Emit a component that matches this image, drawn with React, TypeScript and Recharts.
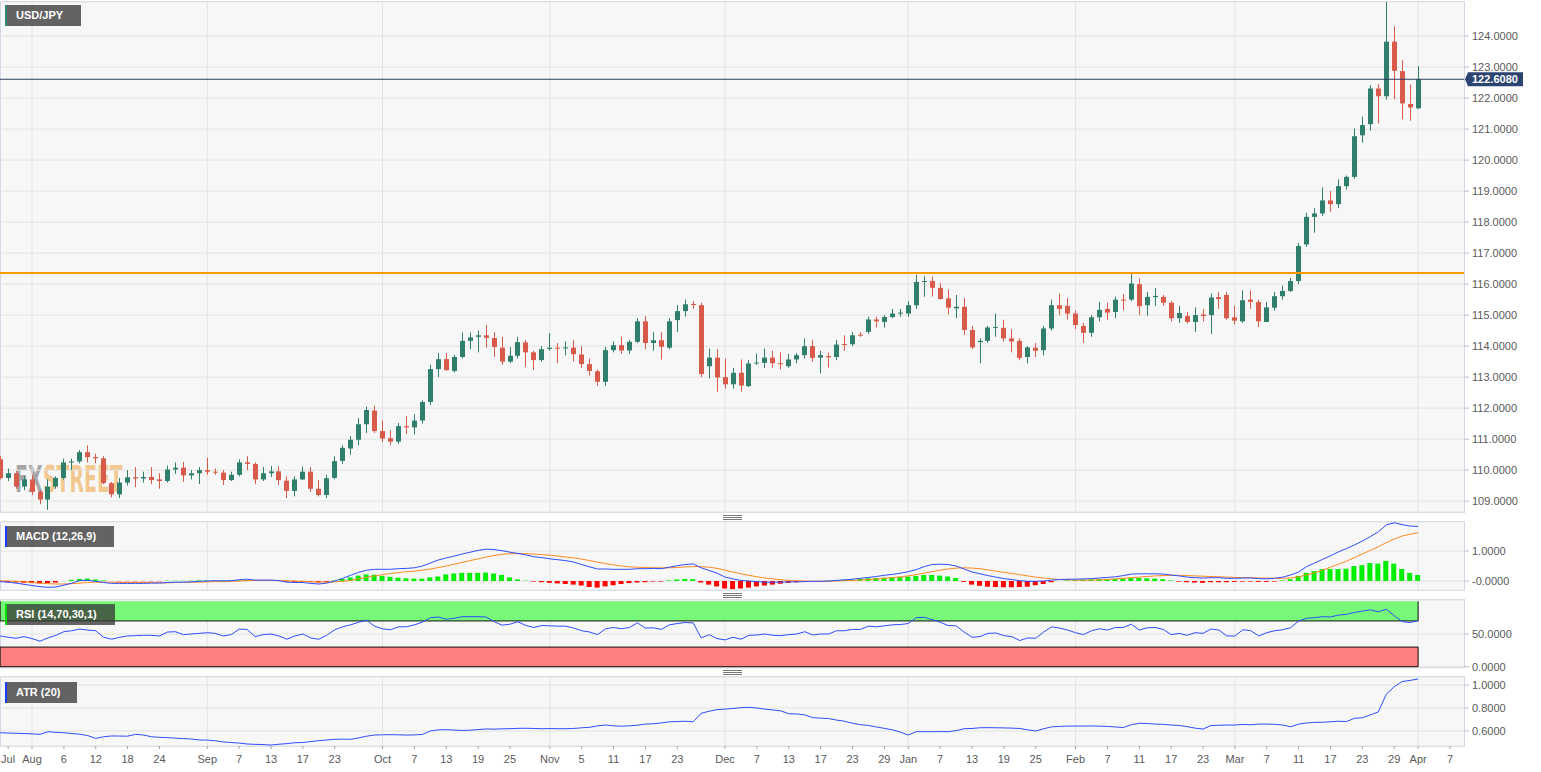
import React from "react";
import {
  ComposedChart,
  Bar,
  Line,
  XAxis,
  YAxis,
  CartesianGrid,
  ReferenceLine,
  ReferenceArea,
  Cell,
} from "recharts";

// daily USD/JPY candles, Jul 27 2021 (index 0) .. Apr 1 2022 (index 178), weekdays only
const open = [
  110.35, 109.75, 109.90, 109.47, 109.70, 109.30, 109.05, 109.47, 109.75, 110.25,
  110.28, 110.58, 110.42, 110.38, 109.58, 109.22, 109.60, 109.77, 109.73, 109.78,
  109.70, 109.65, 110.02, 110.08, 109.83, 109.90, 110.00, 109.95, 109.92, 109.68,
  109.85, 110.25, 110.20, 109.70, 109.90, 109.96, 109.66, 109.33, 109.70, 109.95,
  109.40, 109.20, 109.75, 110.30, 110.70, 110.98, 111.48, 111.92, 111.26, 111.03,
  110.92, 111.42, 111.38, 111.60, 112.20, 113.26, 113.58, 113.20, 113.65, 114.17,
  114.30, 114.35, 114.26, 113.95, 113.50, 113.69, 114.12, 113.80, 113.55, 113.91,
  113.95, 113.93, 113.95, 113.73, 113.42, 113.19, 112.85, 113.87, 114.03, 113.86,
  114.14, 114.80, 114.10, 114.19, 113.95, 114.84, 115.13, 115.36, 115.32, 113.35,
  113.63, 113.00, 112.77, 113.14, 112.71, 113.44, 113.46, 113.63, 113.45, 113.35,
  113.57, 113.71, 114.00, 113.63, 113.68, 113.65, 114.07, 114.06, 114.37, 114.46,
  114.86, 114.78, 114.94, 115.05, 115.05, 115.32, 116.07, 116.10, 115.88, 115.54,
  115.22, 115.27, 114.52, 114.13, 114.17, 114.60, 114.59, 114.25, 114.17, 113.65,
  113.95, 113.87, 114.57, 115.32, 115.30, 115.05, 114.65, 114.43, 114.93, 115.20,
  115.10, 115.50, 115.50, 116.00, 115.32, 115.58, 115.59, 115.40, 114.90, 114.97,
  114.78, 115.02, 115.00, 115.58, 115.65, 114.93, 114.80, 115.50, 115.42, 114.78,
  115.24, 115.61, 115.78, 116.10, 117.28, 118.17, 118.28, 118.70, 118.58, 119.16,
  119.46, 120.80, 121.16, 122.31, 122.06, 123.82, 122.87, 121.81, 121.67,
];
const high = [
  110.45, 110.05, 109.98, 109.80, 109.85, 109.35, 109.70, 109.80, 110.37, 110.37,
  110.65, 110.80, 110.53, 110.45, 109.62, 109.75, 110.00, 110.10, 109.95, 110.10,
  109.90, 110.15, 110.25, 110.27, 110.00, 110.10, 110.40, 110.05, 110.00, 109.95,
  110.35, 110.45, 110.25, 110.10, 110.13, 110.13, 109.80, 109.80, 110.12, 110.10,
  109.68, 109.85, 110.45, 110.80, 111.10, 111.68, 112.05, 112.08, 111.60, 111.29,
  111.52, 111.74, 111.80, 112.25, 113.40, 113.78, 113.78, 113.72, 114.44, 114.44,
  114.50, 114.68, 114.45, 114.30, 113.97, 114.30, 114.20, 113.85, 114.00, 114.42,
  114.10, 114.15, 114.20, 114.00, 113.60, 113.25, 113.98, 114.15, 114.30, 114.20,
  114.90, 114.97, 114.45, 114.45, 114.90, 115.32, 115.50, 115.45, 115.40, 113.92,
  113.90, 113.60, 113.30, 113.57, 113.55, 113.76, 113.92, 113.85, 113.80, 113.75,
  113.78, 114.25, 114.20, 113.85, 113.80, 114.20, 114.35, 114.45, 114.45, 114.95,
  114.95, 115.00, 115.20, 115.20, 115.45, 116.30, 116.25, 116.25, 116.03, 115.83,
  115.65, 115.55, 114.65, 114.25, 114.65, 115.05, 114.85, 114.55, 114.25, 114.00,
  114.10, 114.65, 115.50, 115.70, 115.55, 115.15, 114.75, 115.00, 115.43, 115.40,
  115.60, 115.68, 116.33, 116.18, 115.75, 115.88, 115.65, 115.45, 115.30, 115.10,
  115.25, 115.20, 115.70, 115.75, 115.75, 115.30, 115.80, 115.80, 115.50, 115.43,
  115.75, 115.95, 116.20, 117.33, 118.30, 118.45, 119.12, 119.00, 119.38, 119.50,
  121.02, 121.40, 122.42, 122.45, 125.10, 124.32, 123.22, 122.44, 123.03,
];
const low = [
  109.70, 109.65, 109.40, 109.35, 109.20, 108.90, 108.72, 109.40, 109.70, 110.00,
  110.22, 110.25, 110.22, 109.55, 109.12, 109.10, 109.50, 109.45, 109.60, 109.55,
  109.40, 109.60, 109.88, 109.62, 109.70, 109.55, 109.85, 109.85, 109.52, 109.65,
  109.80, 110.00, 109.55, 109.65, 109.78, 109.52, 109.10, 109.15, 109.68, 109.30,
  109.15, 109.10, 109.70, 110.20, 110.50, 110.80, 111.20, 111.20, 110.90, 110.80,
  110.85, 111.16, 111.15, 111.50, 112.10, 113.00, 113.20, 113.15, 113.60, 113.90,
  113.80, 113.95, 113.65, 113.40, 113.45, 113.60, 113.33, 113.23, 113.50, 113.85,
  113.45, 113.70, 113.50, 113.30, 113.05, 112.72, 112.72, 113.80, 113.75, 113.75,
  114.10, 113.90, 113.85, 113.57, 113.90, 114.46, 114.95, 115.20, 113.00, 112.96,
  112.53, 112.63, 112.63, 112.53, 112.68, 113.40, 113.30, 113.30, 113.25, 113.30,
  113.45, 113.60, 113.50, 113.12, 113.31, 113.55, 113.85, 114.00, 114.30, 114.40,
  114.60, 114.60, 114.90, 114.95, 114.95, 115.20, 115.59, 115.60, 115.50, 115.02,
  114.90, 114.35, 113.90, 113.45, 114.10, 114.30, 114.15, 113.80, 113.55, 113.44,
  113.65, 113.70, 114.50, 115.00, 114.85, 114.55, 114.10, 114.30, 114.80, 114.85,
  114.90, 115.15, 115.45, 115.00, 114.98, 115.30, 115.30, 114.80, 114.75, 114.73,
  114.46, 114.80, 114.39, 115.20, 114.85, 114.70, 114.75, 115.20, 114.62, 114.78,
  115.15, 115.50, 115.75, 116.00, 117.20, 117.66, 118.20, 118.33, 118.45, 119.05,
  119.40, 120.56, 120.95, 121.18, 121.95, 121.96, 121.32, 121.27, 121.65,
];
const close = [
  109.74, 109.90, 109.47, 109.70, 109.30, 109.05, 109.47, 109.75, 110.25, 110.28,
  110.58, 110.42, 110.38, 109.58, 109.22, 109.60, 109.77, 109.73, 109.78, 109.68,
  109.65, 110.02, 110.08, 109.83, 109.90, 110.00, 109.95, 109.92, 109.68, 109.85,
  110.25, 110.20, 109.70, 109.90, 109.96, 109.68, 109.33, 109.70, 109.95, 109.40,
  109.20, 109.74, 110.29, 110.72, 110.98, 111.48, 111.94, 111.26, 111.02, 110.92,
  111.42, 111.38, 111.60, 112.20, 113.26, 113.58, 113.23, 113.65, 114.17, 114.28,
  114.35, 114.27, 113.97, 113.50, 113.69, 114.13, 113.80, 113.55, 113.90, 113.95,
  113.93, 113.96, 113.74, 113.42, 113.20, 112.85, 113.87, 114.03, 113.86, 114.14,
  114.80, 114.10, 114.19, 113.98, 114.80, 115.13, 115.35, 115.35, 113.10, 113.63,
  112.99, 112.77, 113.14, 112.73, 113.44, 113.47, 113.63, 113.45, 113.42, 113.57,
  113.71, 114.00, 113.62, 113.71, 113.64, 114.05, 114.05, 114.35, 114.34, 114.86,
  114.80, 114.94, 115.05, 115.08, 115.32, 116.07, 116.10, 115.88, 115.52, 115.24,
  115.27, 114.52, 113.96, 114.17, 114.60, 114.62, 114.25, 114.15, 113.62, 113.96,
  113.85, 114.57, 115.32, 115.20, 115.05, 114.68, 114.43, 114.93, 115.17, 115.08,
  115.50, 115.48, 116.02, 115.29, 115.59, 115.62, 115.40, 114.90, 115.07, 114.78,
  115.00, 114.97, 115.57, 115.52, 114.90, 114.82, 115.48, 115.43, 114.80, 115.25,
  115.61, 115.78, 116.10, 117.23, 118.17, 118.28, 118.70, 118.58, 119.16, 119.46,
  120.77, 121.13, 122.31, 122.06, 123.82, 122.88, 121.83, 121.70, 122.608,
];

const macd = [
  -0.02, -0.04, -0.07, -0.11, -0.15, -0.19, -0.21, -0.20, -0.14, -0.07,
  0.02, 0.02, -0.01, -0.05, -0.08, -0.08, -0.08, -0.08, -0.08, -0.07,
  -0.07, -0.05, -0.04, -0.04, -0.03, -0.01, 0.0, 0.01, 0.0, 0.01,
  0.04, 0.06, 0.03, 0.03, 0.03, 0.01, -0.04, -0.05, -0.05, -0.08,
  -0.10, -0.07, 0.0, 0.09, 0.19, 0.29, 0.36, 0.39, 0.39, 0.39,
  0.41, 0.42, 0.44, 0.50, 0.60, 0.70, 0.77, 0.83, 0.90, 0.96,
  1.02, 1.06, 1.05, 1.01, 0.96, 0.92, 0.87, 0.81, 0.78, 0.74,
  0.71, 0.68, 0.63, 0.55, 0.47, 0.40, 0.40, 0.39, 0.39, 0.39,
  0.41, 0.41, 0.42, 0.41, 0.46, 0.51, 0.55, 0.57, 0.44, 0.35,
  0.26, 0.13, 0.07, 0.02, 0.0, -0.02, -0.04, -0.04, -0.04, -0.03,
  -0.03, -0.02, -0.01, -0.01, 0.0, 0.02, 0.04, 0.06, 0.09, 0.12,
  0.15, 0.19, 0.22, 0.26, 0.31, 0.38, 0.48, 0.55, 0.56, 0.55,
  0.50, 0.40, 0.30, 0.24, 0.18, 0.13, 0.08, 0.05, 0.01, -0.01,
  -0.01, 0.0, 0.03, 0.05, 0.06, 0.06, 0.07, 0.08, 0.10, 0.12,
  0.14, 0.18, 0.23, 0.24, 0.24, 0.24, 0.23, 0.20, 0.17, 0.13,
  0.11, 0.10, 0.11, 0.11, 0.09, 0.09, 0.10, 0.10, 0.08, 0.07,
  0.09, 0.13, 0.20, 0.30, 0.48, 0.60, 0.72, 0.84, 0.97, 1.08,
  1.20, 1.33, 1.48, 1.64, 1.87, 1.94, 1.88, 1.83, 1.82,
];
const signal = [
  0.01, 0.0, -0.01, -0.03, -0.05, -0.07, -0.09, -0.10, -0.10, -0.09,
  -0.07, -0.05, -0.04, -0.04, -0.04, -0.05, -0.05, -0.05, -0.05, -0.05,
  -0.06, -0.06, -0.05, -0.05, -0.04, -0.04, -0.03, -0.02, -0.02, -0.01,
  0.0, 0.01, 0.02, 0.02, 0.02, 0.02, 0.01, 0.0, -0.01, -0.02,
  -0.03, -0.04, -0.03, -0.01, 0.02, 0.07, 0.12, 0.17, 0.21, 0.25,
  0.28, 0.31, 0.33, 0.36, 0.40, 0.45, 0.50, 0.56, 0.62, 0.68,
  0.74, 0.80, 0.85, 0.89, 0.91, 0.91, 0.91, 0.90, 0.88, 0.86,
  0.83, 0.80, 0.77, 0.73, 0.68, 0.63, 0.58, 0.54, 0.50, 0.47,
  0.46, 0.45, 0.44, 0.44, 0.44, 0.45, 0.47, 0.48, 0.48, 0.46,
  0.42, 0.36, 0.30, 0.24, 0.19, 0.14, 0.10, 0.07, 0.04, 0.02,
  0.01, 0.0, -0.01, -0.01, -0.01, 0.0, 0.01, 0.02, 0.03, 0.05,
  0.07, 0.09, 0.11, 0.14, 0.17, 0.21, 0.26, 0.31, 0.36, 0.40,
  0.43, 0.44, 0.43, 0.41, 0.37, 0.33, 0.29, 0.25, 0.21, 0.17,
  0.13, 0.10, 0.07, 0.05, 0.04, 0.03, 0.03, 0.03, 0.04, 0.05,
  0.07, 0.09, 0.11, 0.13, 0.15, 0.17, 0.18, 0.19, 0.19, 0.18,
  0.17, 0.16, 0.15, 0.14, 0.13, 0.12, 0.11, 0.11, 0.10, 0.10,
  0.09, 0.09, 0.10, 0.14, 0.20, 0.27, 0.36, 0.46, 0.56, 0.66,
  0.78, 0.90, 1.02, 1.14, 1.28, 1.40, 1.50, 1.56, 1.61,
];
const hist = [
  -0.03, -0.04, -0.05, -0.06, -0.07, -0.08, -0.07, -0.05, 0.0, 0.04,
  0.07, 0.08, 0.05, 0.02, 0.0, -0.01, -0.01, -0.01, -0.01, -0.01,
  -0.01, 0.01, 0.01, 0.01, 0.01, 0.02, 0.02, 0.02, 0.02, 0.02,
  0.02, 0.03, 0.02, 0.01, 0.01, 0.0, -0.02, -0.03, -0.03, -0.04,
  -0.05, -0.03, 0.02, 0.07, 0.12, 0.18, 0.22, 0.21, 0.17, 0.14,
  0.11, 0.09, 0.08, 0.08, 0.12, 0.15, 0.22, 0.25, 0.27, 0.27,
  0.27, 0.28, 0.25, 0.20, 0.12, 0.05, 0.01, -0.02, -0.04, -0.06,
  -0.08, -0.10, -0.12, -0.15, -0.20, -0.22, -0.18, -0.14, -0.10, -0.07,
  -0.05, -0.04, -0.02, -0.02, 0.02, 0.05, 0.07, 0.06, -0.05, -0.12,
  -0.18, -0.25, -0.27, -0.25, -0.22, -0.18, -0.15, -0.12, -0.09, -0.06,
  -0.04, -0.02, -0.01, 0.0, 0.01, 0.02, 0.04, 0.05, 0.07, 0.09,
  0.10, 0.11, 0.12, 0.13, 0.15, 0.17, 0.20, 0.20, 0.18, 0.15,
  0.10, -0.03, -0.12, -0.16, -0.19, -0.20, -0.21, -0.21, -0.20, -0.19,
  -0.14, -0.10, -0.04, 0.0, 0.02, 0.03, 0.04, 0.05, 0.06, 0.07,
  0.07, 0.08, 0.10, 0.10, 0.09, 0.08, 0.06, 0.02, -0.02, -0.04,
  -0.05, -0.06, -0.04, -0.04, -0.04, -0.03, -0.02, -0.02, -0.03, -0.03,
  -0.02, 0.02, 0.06, 0.17, 0.27, 0.33, 0.40, 0.40, 0.40, 0.41,
  0.50, 0.53, 0.60, 0.58, 0.67, 0.58, 0.40, 0.27, 0.20,
];
const rsi = [
  47, 45, 43.5, 46, 43, 39, 44, 48, 53.5, 55,
  57.5, 56, 55, 45, 42, 45, 47, 47.5, 48, 48,
  47, 53, 53.5, 49, 50, 51, 52, 51, 47, 49,
  57.5, 57, 46, 49, 50, 47, 42, 47, 50, 44,
  42, 48, 56.5, 61, 64, 68, 71, 62, 58, 56.5,
  61, 61, 64, 68, 75, 76, 72.5, 74, 76.5, 76.5,
  76.5, 76, 69, 63.5, 65, 68.7, 63, 60, 63, 62.5,
  62, 62, 59, 55, 53, 49, 58, 60, 58, 60,
  67, 59, 59.5, 57, 64, 66, 67.5, 67, 44, 49,
  43, 41, 45, 42, 48, 48.5, 50, 48, 47.5, 49,
  50, 53.5, 48.5, 50, 50, 55, 55, 57, 57, 62,
  61, 62.5, 64, 64.5, 66, 75, 75.5, 72, 68, 63,
  62.5, 53, 45, 46, 51, 51.5, 47.5, 46, 40, 44,
  43.5, 53, 61, 59, 56, 52, 49, 55, 58, 56,
  60, 60, 65, 56, 59.5, 60, 57, 49, 51, 48,
  52, 51, 57.6, 56, 47, 46.9, 56.5, 55, 47, 52,
  55, 56.5, 59.6, 70, 74, 75, 76.5, 76, 79, 80,
  83, 85, 87, 84, 88, 78, 69, 67.5, 70.5,
];
const atr = [
  0.585, 0.582, 0.580, 0.578, 0.575, 0.571, 0.594, 0.588, 0.585, 0.578,
  0.572, 0.560, 0.536, 0.550, 0.557, 0.556, 0.555, 0.571, 0.565, 0.550,
  0.545, 0.542, 0.538, 0.534, 0.530, 0.522, 0.521, 0.515, 0.505, 0.500,
  0.495, 0.487, 0.484, 0.482, 0.478, 0.485, 0.490, 0.498, 0.500, 0.508,
  0.516, 0.522, 0.528, 0.529, 0.528, 0.540, 0.555, 0.565, 0.567, 0.568,
  0.567, 0.565, 0.566, 0.570, 0.600, 0.610, 0.612, 0.608, 0.605, 0.607,
  0.612, 0.618, 0.616, 0.619, 0.620, 0.623, 0.624, 0.622, 0.620, 0.621,
  0.620, 0.620, 0.622, 0.628, 0.632, 0.645, 0.652, 0.645, 0.642, 0.645,
  0.650, 0.660, 0.663, 0.670, 0.680, 0.682, 0.685, 0.680, 0.754, 0.772,
  0.786, 0.790, 0.796, 0.803, 0.806, 0.800, 0.790, 0.783, 0.775, 0.750,
  0.748, 0.740, 0.716, 0.712, 0.708, 0.695, 0.685, 0.667, 0.655, 0.648,
  0.635, 0.623, 0.610, 0.590, 0.565, 0.594, 0.594, 0.594, 0.595, 0.594,
  0.603, 0.620, 0.622, 0.628, 0.629, 0.628, 0.627, 0.625, 0.622, 0.610,
  0.600, 0.620, 0.636, 0.640, 0.643, 0.643, 0.643, 0.644, 0.642, 0.640,
  0.635, 0.630, 0.655, 0.667, 0.665, 0.660, 0.658, 0.652, 0.648, 0.638,
  0.625, 0.617, 0.648, 0.650, 0.652, 0.652, 0.657, 0.654, 0.660, 0.660,
  0.658, 0.652, 0.637, 0.660, 0.670, 0.675, 0.676, 0.680, 0.685, 0.682,
  0.710, 0.715, 0.740, 0.765, 0.920, 0.985, 1.030, 1.040, 1.052,
];

const priceTicks = [109, 110, 111, 112, 113, 114, 115, 116, 117, 118, 119, 120, 121, 122, 123, 124];
const resistance = 116.355;
const lastPrice = close[close.length - 1];
const lastIdx = close.length - 1;

const monthStarts = [4, 26, 48, 69, 91, 114, 135, 155, 178];
const tickIdx = [
  1, 4, 8, 12, 16, 20, 26, 30, 34, 38, 42, 48, 52, 56, 60, 64, 69, 73, 77, 81, 85,
  91, 95, 99, 103, 107, 111, 114, 118, 122, 126, 130, 135, 139, 143, 147, 151,
  155, 159, 163, 167, 171, 175, 178, 182,
];
const tickLabels = [
  "Jul", "Aug", "6", "12", "18", "24", "Sep", "7", "13", "17", "23", "Oct", "7", "13", "19", "25",
  "Nov", "5", "11", "17", "23", "Dec", "7", "13", "17", "23", "29", "Jan", "7", "13", "19", "25",
  "Feb", "7", "11", "17", "23", "Mar", "7", "11", "17", "23", "29", "Apr", "7",
];

const rows = open.map((o, i) => ({
  i,
  o,
  h: high[i],
  l: low[i],
  c: close[i],
  range: [low[i], high[i]],
  macd: macd[i],
  signal: signal[i],
  hist: hist[i],
  rsi: rsi[i],
  atr: atr[i],
}));

const W = 1541;
const AXIS_W = 77;
const X_DOMAIN: [number, number] = [-0.02, 183.76];
const FONT = "'Liberation Sans', Arial, sans-serif";
const MARK_FONT = "'DejaVu Sans Condensed', 'DejaVu Sans', sans-serif";
const GREEN = "#2f7f6c";
const RED = "#d85a4a";
const BLUE = "#2f4dff";
const GRID = "#e3e3e3";
const FRAME = "#d3d8e7";

const tickStyle = { fill: "#5a5a5a", fontSize: 11, fontFamily: FONT };

function Candle(props: any) {
  const { x, y, width, height, payload } = props;
  if (!payload || x == null) return null;
  const { o, h, l, c } = payload;
  const top = Math.min(y, y + height);
  const span = Math.abs(height);
  const k = h === l ? 0 : span / (h - l);
  const py = (v: number) => top + (h - v) * k;
  const cx = Math.round(x + width / 2) + 0.5;
  const color = c >= o ? GREEN : RED;
  const bodyTop = py(Math.max(o, c));
  const bodyH = Math.max(1, Math.abs(py(o) - py(c)));
  return (
    <g>
      <line x1={cx} x2={cx} y1={top} y2={top + span} stroke={color} strokeWidth={1} />
      <rect x={cx - 2.5} y={bodyTop} width={5} height={bodyH} fill={color} />
    </g>
  );
}

function PriceTag(props: any) {
  const vb = props.viewBox || {};
  const x = (vb.x ?? 0) + (vb.width ?? 0);
  const y = vb.y ?? 0;
  return (
    <g>
      <path
        d={`M${x + 1},${y} L${x + 4},${y - 7} L${x + 59},${y - 7} L${x + 59},${y + 7} L${x + 4},${y + 7} Z`}
        fill="#2c4470"
      />
      <text x={x + 8} y={y + 4} fill="#fff" fontSize={11} fontWeight="bold" fontFamily={FONT}>
        {lastPrice.toFixed(4)}
      </text>
    </g>
  );
}

function Frame({ top, height }: { top: number; height: number }) {
  return (
    <div
      style={{
        position: "absolute",
        left: 0,
        top,
        width: W - AXIS_W + 1,
        height,
        boxSizing: "border-box",
        border: `1px solid ${FRAME}`,
        background: "#f7f7f7",
      }}
    />
  );
}

function Tag({ top, width, text, strip }: { top: number; width: number; text: string; strip: string }) {
  return (
    <div
      style={{
        position: "absolute",
        left: 5,
        top,
        width,
        height: 21,
        background: "rgba(58,58,58,0.78)",
        borderLeft: `2px solid ${strip}`,
        boxSizing: "border-box",
        color: "#fff",
        fontFamily: FONT,
        fontWeight: "bold",
        fontSize: 11,
        lineHeight: "21px",
        paddingLeft: 9,
        whiteSpace: "nowrap",
      }}
    >
      {text}
    </div>
  );
}

function Grip({ top }: { top: number }) {
  return (
    <div style={{ position: "absolute", left: 723, top, width: 19 }}>
      {[0, 2, 4].map((d) => (
        <div key={d} style={{ position: "absolute", top: d, width: 19, height: 1, background: "#777" }} />
      ))}
    </div>
  );
}

const hiddenX = (
  <XAxis dataKey="i" type="number" scale="linear" domain={X_DOMAIN} allowDataOverflow ticks={tickIdx} hide />
);

const band = "#111";

export default function App() {
  return (
    <div style={{ position: "absolute", left: 0, top: 0, width: W, height: 772, background: "#fff", overflow: "hidden" }}>
      <Frame top={1} height={512} />
      <Frame top={521} height={70} />
      <Frame top={599} height={69} />
      <Frame top={676} height={71} />

      {/* watermark */}
      <svg style={{ position: "absolute", left: 8, top: 448 }} width={140} height={60}>
        <g transform="scale(1,1.75)">
          <text x={7} y={25.4} fontFamily={MARK_FONT} fontWeight="bold" fontSize={21} fill="#8c8c8c" fillOpacity={0.75}>
            FX
          </text>
          <text x={35} y={25.4} fontFamily={MARK_FONT} fontWeight="bold" fontSize={21} fill="#f0a848" fillOpacity={0.6}>
            STREET
          </text>
        </g>
      </svg>

      <div style={{ position: "absolute", left: 0, top: 0 }}>
        <ComposedChart width={W} height={520} data={rows} margin={{ top: 2, right: 0, bottom: 8, left: 0 }}>
          <CartesianGrid stroke={GRID} verticalValues={monthStarts} />
          {hiddenX}
          <YAxis
            orientation="right"
            type="number"
            domain={[108.65, 125.1]}
            allowDataOverflow
            ticks={priceTicks}
            interval={0}
            tickFormatter={(v: number) => v.toFixed(4)}
            width={AXIS_W}
            axisLine={false}
            tickLine={{ stroke: "#b8bdca" }}
            tickSize={5}
            tickMargin={3}
            tick={tickStyle}
          />
          <ReferenceLine y={resistance} stroke="#ff9a00" strokeWidth={2} />
          <Bar dataKey="range" barSize={5} isAnimationActive={false} shape={(p: any) => <Candle {...p} />} />
          <ReferenceLine y={lastPrice} stroke="#2c3c5e" strokeWidth={1} label={<PriceTag />} />
        </ComposedChart>
      </div>

      <div style={{ position: "absolute", left: 0, top: 516 }}>
        <ComposedChart width={W} height={80} data={rows} margin={{ top: 6, right: 0, bottom: 6, left: 0 }}>
          <CartesianGrid stroke={GRID} verticalValues={monthStarts} />
          {hiddenX}
          <YAxis
            orientation="right"
            type="number"
            domain={[-0.3, 1.967]}
            allowDataOverflow
            ticks={[0, 1]}
            interval={0}
            tickFormatter={(v: number) => (v === 0 ? "-0.0000" : v.toFixed(4))}
            width={AXIS_W}
            axisLine={false}
            tickLine={{ stroke: "#b8bdca" }}
            tickSize={5}
            tickMargin={3}
            tick={tickStyle}
          />
          <Bar dataKey="hist" barSize={5} isAnimationActive={false}>
            {rows.map((r) => (
              <Cell key={r.i} fill={r.hist >= 0 ? "#00ee00" : "#ff0000"} />
            ))}
          </Bar>
          <Line dataKey="signal" stroke="#ff8a1c" strokeWidth={1} dot={false} isAnimationActive={false} />
          <Line dataKey="macd" stroke={BLUE} strokeWidth={1} dot={false} isAnimationActive={false} />
        </ComposedChart>
      </div>

      <div style={{ position: "absolute", left: 0, top: 594 }}>
        <ComposedChart width={W} height={80} data={rows} margin={{ top: 6, right: 0, bottom: 6, left: 0 }}>
          <CartesianGrid stroke={GRID} verticalValues={monthStarts} />
          {hiddenX}
          <YAxis
            orientation="right"
            type="number"
            domain={[-2, 102]}
            allowDataOverflow
            ticks={[0, 50]}
            interval={0}
            tickFormatter={(v: number) => v.toFixed(4)}
            width={AXIS_W}
            axisLine={false}
            tickLine={{ stroke: "#b8bdca" }}
            tickSize={5}
            tickMargin={3}
            tick={tickStyle}
          />
          <ReferenceArea x1={0} x2={lastIdx} y1={70} y2={100} fill="#78f878" fillOpacity={1} stroke="none" />
          <ReferenceArea x1={0} x2={lastIdx} y1={0} y2={30} fill="#ff7f7f" fillOpacity={1} stroke="none" />
          <ReferenceLine segment={[{ x: 0, y: 70 }, { x: lastIdx, y: 70 }]} stroke={band} />
          <ReferenceLine segment={[{ x: 0, y: 70 }, { x: 0, y: 100 }]} stroke={band} />
          <ReferenceLine segment={[{ x: lastIdx, y: 70 }, { x: lastIdx, y: 100 }]} stroke={band} />
          <ReferenceLine segment={[{ x: 0, y: 30 }, { x: lastIdx, y: 30 }]} stroke={band} />
          <ReferenceLine segment={[{ x: 0, y: 0 }, { x: lastIdx, y: 0 }]} stroke={band} />
          <ReferenceLine segment={[{ x: 0, y: 0 }, { x: 0, y: 30 }]} stroke={band} />
          <ReferenceLine segment={[{ x: lastIdx, y: 0 }, { x: lastIdx, y: 30 }]} stroke={band} />
          <Line dataKey="rsi" stroke={BLUE} strokeWidth={1} dot={false} isAnimationActive={false} />
        </ComposedChart>
      </div>

      <div style={{ position: "absolute", left: 0, top: 671 }}>
        <ComposedChart width={W} height={101} data={rows} margin={{ top: 6, right: 0, bottom: 0, left: 0 }}>
          <CartesianGrid stroke={GRID} verticalValues={monthStarts} />
          <XAxis
            dataKey="i"
            type="number"
            scale="linear"
            domain={X_DOMAIN}
            allowDataOverflow
            ticks={tickIdx}
            interval={0}
            tickFormatter={(v: number) => tickLabels[tickIdx.indexOf(v)] ?? ""}
            height={26}
            axisLine={false}
            tickLine={{ stroke: "#9aa0ad" }}
            tickSize={3}
            tickMargin={6}
            tick={tickStyle}
          />
          <YAxis
            orientation="right"
            type="number"
            domain={[0.4696, 1.0696]}
            allowDataOverflow
            ticks={[0.6, 0.8, 1.0]}
            interval={0}
            tickFormatter={(v: number) => v.toFixed(4)}
            width={AXIS_W}
            axisLine={false}
            tickLine={{ stroke: "#b8bdca" }}
            tickSize={5}
            tickMargin={3}
            tick={tickStyle}
          />
          <Line dataKey="atr" stroke={BLUE} strokeWidth={1} dot={false} isAnimationActive={false} />
        </ComposedChart>
      </div>

      <Grip top={515} />
      <Grip top={593} />
      <Grip top={670} />

      <Tag top={5} width={76} text="USD/JPY" strip="#2e8b6f" />
      <Tag top={526} width={109} text="MACD (12,26,9)" strip="#1a3cff" />
      <Tag top={604} width={110} text="RSI (14,70,30,1)" strip="#00dd00" />
      <Tag top={682} width={72} text="ATR (20)" strip="#1a3cff" />
    </div>
  );
}
